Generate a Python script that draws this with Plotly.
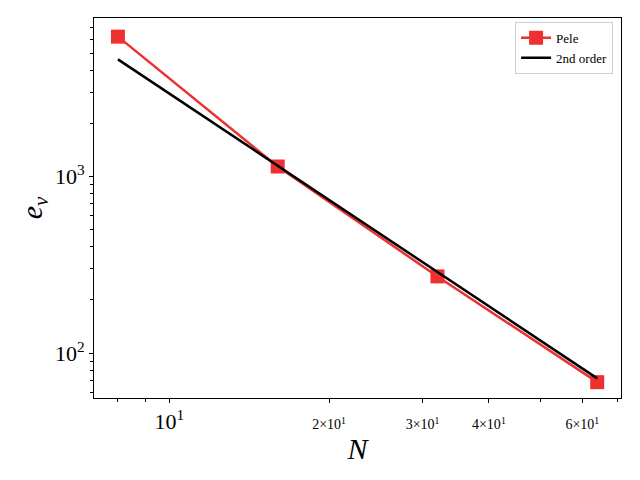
import plotly.graph_objects as go

# grid resolution and velocity error
N = [8, 16, 32, 64]
e_pele = [6200, 1140, 272, 68.5]
e_2nd = [4610, 1152, 288, 72]

x_tickvals = [10, 20, 30, 40, 60]
x_ticktext = ["10<sup>1</sup>",
              "<span style='font-size:14px'>2×10<sup>1</sup></span>",
              "<span style='font-size:14px'>3×10<sup>1</sup></span>",
              "<span style='font-size:14px'>4×10<sup>1</sup></span>",
              "<span style='font-size:14px'>6×10<sup>1</sup></span>"]
x_minor = [8, 9, 50, 70]
y_tickvals = [100, 1000]
y_ticktext = ["10<sup>2</sup>", "10<sup>3</sup>"]
y_minor = [60, 70, 80, 90, 200, 300, 400, 500, 600, 700, 800, 900,
           2000, 3000, 4000, 5000, 6000, 7000]

RED = "#ee3030"
SERIF = "Liberation Serif"

fig = go.Figure()
fig.add_trace(go.Scatter(x=N, y=e_pele, mode="lines+markers", name="Pele",
                         line=dict(color=RED, width=2.5),
                         marker=dict(symbol="square", size=14, color=RED)))
fig.add_trace(go.Scatter(x=N, y=e_2nd, mode="lines", name="2nd order",
                         line=dict(color="black", width=2.5)))

axis_common = dict(type="log", showgrid=False, zeroline=False, showline=True,
                   linecolor="black", linewidth=1, mirror=True, ticks="outside",
                   ticklen=4, tickcolor="black", tickmode="array", automargin=False,
                   tickfont=dict(family=SERIF, size=22, color="black"))
fig.update_xaxes(range=[0.858, 1.851], tickvals=x_tickvals, ticktext=x_ticktext,
                 minor=dict(tickmode="array", tickvals=x_minor, ticks="outside",
                            ticklen=3, tickcolor="black", showgrid=False),
                 title=dict(text="<i>N</i>", font=dict(family=SERIF, size=30, color="black"),
                            standoff=4),
                 **axis_common)
fig.update_yaxes(range=[1.746, 3.898], tickvals=y_tickvals, ticktext=y_ticktext,
                 minor=dict(tickmode="array", tickvals=y_minor, ticks="outside",
                            ticklen=3, tickcolor="black", showgrid=False),
                 title=dict(text="<i>e</i><sub><i>v</i></sub>",
                            font=dict(family=SERIF, size=30, color="black"), standoff=3),
                 **axis_common)

# the page body adds an 8px margin, so the figure is sized to sit inside it
fig.update_layout(
    width=624, height=464,
    margin=dict(l=86, r=11, t=10, b=74),
    paper_bgcolor="white", plot_bgcolor="white",
    font=dict(family=SERIF, color="black"),
    legend=dict(x=0.985, y=0.99, xanchor="right", yanchor="top",
                bgcolor="white", bordercolor="#d0d0d0", borderwidth=1,
                font=dict(family=SERIF, size=13, color="black")),
)
fig.write_html("out.html")
